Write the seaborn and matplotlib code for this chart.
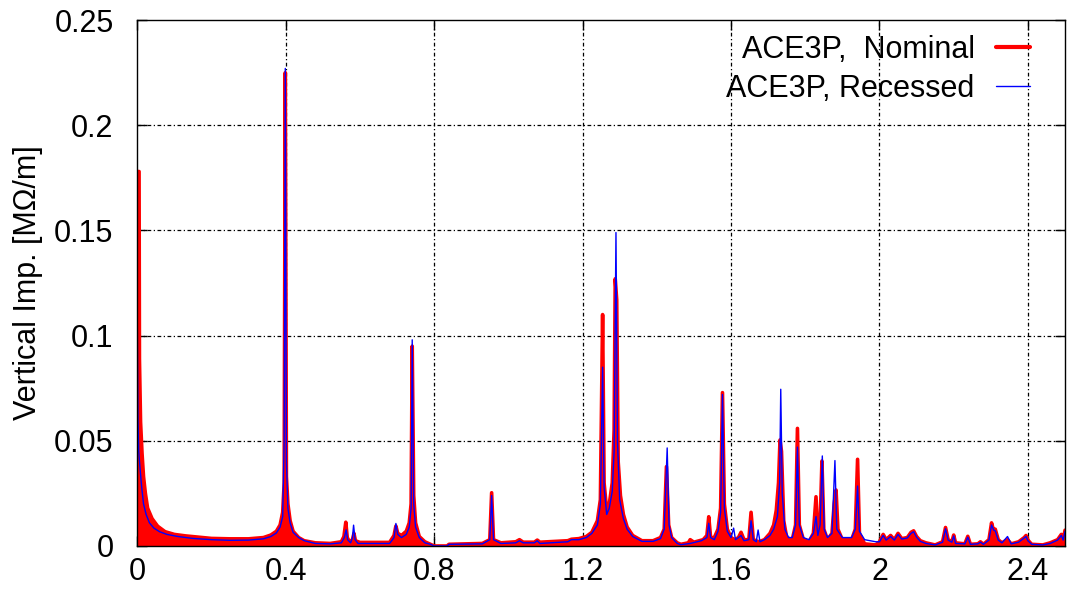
import matplotlib
matplotlib.use("Agg")
import matplotlib.pyplot as plt
import seaborn as sns
import pandas as pd
import numpy as np
from matplotlib.lines import Line2D

# ---------------- data ----------------
nominal_f = [0.000, 0.005, 0.006, 0.009, 0.013, 0.017, 0.022, 0.028, 0.040, 0.055,
             0.075, 0.10, 0.13, 0.16, 0.20, 0.25, 0.30, 0.34, 0.36, 0.375,
             0.385, 0.392, 0.396, 0.399, 0.402, 0.406, 0.412, 0.42, 0.435, 0.45,
             0.48, 0.52, 0.55, 0.557, 0.562, 0.566, 0.572, 0.580, 0.584, 0.588,
             0.60, 0.68, 0.692, 0.697, 0.702, 0.712, 0.725, 0.733, 0.738, 0.741,
             0.745, 0.750, 0.760, 0.775, 0.79, 0.80, 0.835, 0.84, 0.93, 0.95,
             0.955, 0.960, 0.98, 1.02, 1.03, 1.04, 1.07, 1.078, 1.085, 1.16,
             1.17, 1.19, 1.21, 1.225, 1.24, 1.248, 1.254, 1.258, 1.265, 1.272,
             1.28, 1.285, 1.288, 1.292, 1.296, 1.302, 1.31, 1.32, 1.335, 1.36,
             1.39, 1.41, 1.42, 1.426, 1.432, 1.44, 1.455, 1.465, 1.485, 1.49,
             1.50, 1.525, 1.535, 1.540, 1.545, 1.555, 1.565, 1.572, 1.577, 1.582,
             1.59, 1.60, 1.61, 1.62, 1.627, 1.635, 1.648, 1.654, 1.660, 1.675,
             1.69, 1.705, 1.715, 1.722, 1.728, 1.732, 1.736, 1.742, 1.75, 1.765,
             1.774, 1.779, 1.784, 1.795, 1.81, 1.822, 1.829, 1.834, 1.840, 1.845,
             1.850, 1.86, 1.872, 1.878, 1.883, 1.888, 1.90, 1.925, 1.935, 1.941,
             1.946, 1.96, 1.99, 2.00, 2.01, 2.018, 2.03, 2.04, 2.05, 2.06,
             2.075, 2.085, 2.092, 2.10, 2.11, 2.125, 2.15, 2.17, 2.178, 2.185,
             2.195, 2.20, 2.205, 2.23, 2.238, 2.245, 2.265, 2.272, 2.28, 2.295,
             2.302, 2.308, 2.312, 2.32, 2.33, 2.345, 2.355, 2.375, 2.39, 2.395,
             2.40, 2.41, 2.44, 2.46, 2.48, 2.49, 2.495, 2.50]
nominal_z = [0.178, 0.178, 0.089, 0.059, 0.044, 0.033, 0.025, 0.018, 0.013, 0.0094,
             0.0068, 0.0055, 0.0048, 0.0043, 0.0036, 0.0034, 0.0034, 0.0040, 0.0052, 0.0070,
             0.0100, 0.016, 0.030, 0.225, 0.033, 0.020, 0.012, 0.0070, 0.0040, 0.0025,
             0.0015, 0.0012, 0.0020, 0.0045, 0.0113, 0.0040, 0.0020, 0.0030, 0.0060, 0.0025,
             0.0017, 0.0017, 0.0050, 0.0095, 0.0060, 0.0050, 0.0070, 0.0110, 0.020, 0.095,
             0.024, 0.011, 0.0045, 0.0020, 0.0008, 0.0, 0.0, 0.0008, 0.0012, 0.003,
             0.0253, 0.003, 0.0015, 0.0020, 0.0030, 0.0018, 0.0018, 0.0028, 0.0018, 0.0025,
             0.0032, 0.0035, 0.0045, 0.0065, 0.012, 0.022, 0.110, 0.030, 0.017, 0.020,
             0.030, 0.055, 0.127, 0.117, 0.040, 0.024, 0.015, 0.009, 0.005, 0.0025,
             0.0025, 0.004, 0.008, 0.0377, 0.010, 0.004, 0.0015, 0.0008, 0.0015, 0.003,
             0.0018, 0.003, 0.005, 0.0139, 0.004, 0.004, 0.008, 0.018, 0.0729, 0.020,
             0.008, 0.004, 0.003, 0.004, 0.0065, 0.003, 0.003, 0.016, 0.003, 0.002,
             0.003, 0.006, 0.010, 0.017, 0.030, 0.0504, 0.045, 0.012, 0.004, 0.003,
             0.010, 0.0559, 0.010, 0.003, 0.002, 0.006, 0.0234, 0.005, 0.010, 0.0404,
             0.008, 0.003, 0.006, 0.020, 0.0266, 0.008, 0.003, 0.003, 0.008, 0.0412,
             0.006, 0.001, 0.0005, 0.0020, 0.0055, 0.0030, 0.0050, 0.0030, 0.0060, 0.0035,
             0.0040, 0.0065, 0.0072, 0.0045, 0.0025, 0.0015, 0.0005, 0.0020, 0.0088, 0.0030,
             0.0020, 0.0052, 0.0015, 0.0010, 0.0046, 0.0008, 0.0010, 0.0020, 0.0008, 0.0030,
             0.0110, 0.0070, 0.0080, 0.0030, 0.0015, 0.0030, 0.0010, 0.0020, 0.0040, 0.0050,
             0.0028, 0.0008, 0.0005, 0.0015, 0.0030, 0.0055, 0.0030, 0.0075]

recessed_f = [0.000, 0.002, 0.004, 0.008, 0.012, 0.017, 0.024, 0.033, 0.045, 0.06,
              0.08, 0.11, 0.15, 0.20, 0.25, 0.30, 0.34, 0.36, 0.375, 0.385,
              0.392, 0.396, 0.399, 0.402, 0.406, 0.412, 0.42, 0.435, 0.45, 0.48,
              0.52, 0.55, 0.558, 0.563, 0.567, 0.575, 0.580, 0.583, 0.587, 0.595,
              0.68, 0.692, 0.697, 0.702, 0.712, 0.725, 0.733, 0.738, 0.741, 0.745,
              0.750, 0.760, 0.775, 0.79, 0.80, 0.835, 0.84, 0.93, 0.95, 0.955,
              0.960, 0.98, 1.02, 1.03, 1.04, 1.07, 1.078, 1.085, 1.16, 1.17,
              1.19, 1.21, 1.225, 1.24, 1.248, 1.254, 1.258, 1.265, 1.272, 1.28,
              1.285, 1.290, 1.294, 1.30, 1.31, 1.32, 1.335, 1.36, 1.39, 1.41,
              1.42, 1.428, 1.433, 1.44, 1.455, 1.465, 1.49, 1.52, 1.535, 1.540,
              1.545, 1.555, 1.565, 1.572, 1.577, 1.582, 1.59, 1.60, 1.607, 1.612,
              1.62, 1.627, 1.635, 1.648, 1.654, 1.660, 1.668, 1.673, 1.678, 1.69,
              1.705, 1.715, 1.725, 1.731, 1.734, 1.738, 1.745, 1.755, 1.765, 1.774,
              1.779, 1.784, 1.795, 1.81, 1.822, 1.829, 1.834, 1.840, 1.846, 1.851,
              1.86, 1.872, 1.880, 1.885, 1.90, 1.925, 1.935, 1.941, 1.946, 1.96,
              1.99, 2.00, 2.01, 2.018, 2.03, 2.04, 2.05, 2.06, 2.075, 2.085,
              2.092, 2.10, 2.11, 2.125, 2.15, 2.17, 2.178, 2.185, 2.195, 2.20,
              2.205, 2.23, 2.238, 2.245, 2.265, 2.272, 2.28, 2.295, 2.302, 2.308,
              2.312, 2.32, 2.33, 2.345, 2.355, 2.375, 2.39, 2.395, 2.40, 2.41,
              2.44, 2.46, 2.48, 2.49, 2.495, 2.50]
recessed_z = [0.112, 0.060, 0.045, 0.036, 0.028, 0.020, 0.015, 0.011, 0.0085, 0.0068,
              0.0055, 0.0045, 0.0036, 0.0030, 0.0027, 0.0028, 0.0034, 0.0045, 0.0062, 0.0090,
              0.014, 0.050, 0.227, 0.040, 0.018, 0.011, 0.0065, 0.0040, 0.0025, 0.0012,
              0.0010, 0.0015, 0.0040, 0.0077, 0.0030, 0.0015, 0.0040, 0.0099, 0.0030, 0.0012,
              0.0012, 0.0040, 0.0107, 0.0055, 0.0040, 0.0055, 0.0090, 0.018, 0.098, 0.020,
              0.009, 0.0040, 0.0015, 0.0008, 0.0, 0.0, 0.0008, 0.0010, 0.0030, 0.024,
              0.0030, 0.0012, 0.0015, 0.0025, 0.0015, 0.0015, 0.0025, 0.0012, 0.0020, 0.0030,
              0.0030, 0.0040, 0.0060, 0.010, 0.020, 0.085, 0.028, 0.015, 0.018, 0.026,
              0.045, 0.149, 0.050, 0.022, 0.013, 0.008, 0.0045, 0.0022, 0.0022, 0.0035,
              0.008, 0.0466, 0.010, 0.004, 0.0012, 0.0006, 0.0012, 0.0025, 0.004, 0.0108,
              0.004, 0.003, 0.007, 0.016, 0.072, 0.018, 0.007, 0.004, 0.0085, 0.003,
              0.004, 0.005, 0.0025, 0.003, 0.012, 0.003, 0.002, 0.0076, 0.002, 0.003,
              0.005, 0.008, 0.014, 0.030, 0.0745, 0.025, 0.008, 0.004, 0.004, 0.010,
              0.047, 0.010, 0.004, 0.003, 0.006, 0.014, 0.005, 0.010, 0.0428, 0.008,
              0.004, 0.006, 0.0406, 0.008, 0.004, 0.004, 0.008, 0.0285, 0.007, 0.003,
              0.002, 0.0020, 0.0050, 0.0028, 0.0045, 0.0028, 0.0055, 0.0033, 0.0038, 0.0060,
              0.0068, 0.0042, 0.0022, 0.0012, 0.0005, 0.0018, 0.0082, 0.0028, 0.0018, 0.0048,
              0.0012, 0.0010, 0.0042, 0.0008, 0.0010, 0.0018, 0.0008, 0.0028, 0.0100, 0.0075,
              0.0072, 0.0028, 0.0015, 0.0045, 0.0010, 0.0018, 0.0038, 0.0045, 0.0025, 0.0008,
              0.0005, 0.0012, 0.0028, 0.0050, 0.0028, 0.0070]

x_ticks = [0, 0.4, 0.8, 1.2, 1.6, 2.0, 2.4]
x_tick_labels = ["0", "0.4", "0.8", "1.2", "1.6", "2", "2.4"]
y_ticks = [0, 0.05, 0.1, 0.15, 0.2, 0.25]
y_tick_labels = ["0", "0.05", "0.1", "0.15", "0.2", "0.25"]
series_labels = ["ACE3P,  Nominal", "ACE3P, Recessed"]
y_label = "Vertical Imp. [MΩ/m]"

# ---------------- figure ----------------
sns.set_style("ticks")
plt.rcParams['font.family'] = ['Liberation Sans', 'DejaVu Sans']
plt.rcParams['text.color'] = 'black'
plt.rcParams['axes.labelcolor'] = 'black'
plt.rcParams['xtick.color'] = 'black'
plt.rcParams['ytick.color'] = 'black'
FS = 22

fig = plt.figure(figsize=(10.72, 5.90), dpi=100)
ax = fig.add_axes([0.128, 0.0746, 0.8655, 0.8914])

df_nom = pd.DataFrame({"f": nominal_f, "z": nominal_z})
df_rec = pd.DataFrame({"f": recessed_f, "z": recessed_z})

ax.fill_between(df_nom["f"], 0, df_nom["z"], color="#ff0000", linewidth=0, zorder=2)
sns.lineplot(data=df_nom, x="f", y="z", ax=ax, color="#ff0000", linewidth=2.6,
             sort=False, estimator=None, zorder=3, legend=False)
sns.lineplot(data=df_rec, x="f", y="z", ax=ax, color="#0000ff", linewidth=1.0,
             sort=False, estimator=None, zorder=4, legend=False)

ax.set_xlim(0, 2.5)
ax.set_ylim(0, 0.25)
ax.set_xticks(x_ticks)
ax.set_xticklabels(x_tick_labels, fontsize=FS)
ax.set_yticks(y_ticks)
ax.set_yticklabels(y_tick_labels, fontsize=FS)
ax.set_xlabel("")
ax.set_ylabel(y_label, fontsize=FS, labelpad=8, color="black")

ax.tick_params(direction="in", length=7, width=1, top=True, right=True,
               colors="black", labelcolor="black")
ax.tick_params(axis="x", pad=8)
ax.tick_params(axis="y", pad=17)

# gnuplot-like dotted grid
for xv in x_ticks[1:]:
    ax.axvline(xv, color="black", linewidth=0.9, linestyle=(0, (3, 2, 1, 2)), zorder=1)
for yv in y_ticks[1:-1]:
    ax.axhline(yv, color="black", linewidth=0.9, linestyle=(0, (3, 2, 1, 2)), zorder=1)

for sp in ax.spines.values():
    sp.set_linewidth(1.0)
    sp.set_color("black")
    sp.set_zorder(5)

handles = [Line2D([], [], color="#ff0000", linewidth=3.0),
           Line2D([], [], color="#0000ff", linewidth=1.0)]
leg = ax.legend(handles, series_labels, loc="upper right", frameon=False, fontsize=FS,
                markerfirst=False, handlelength=1.1, handletextpad=0.7,
                labelspacing=0.3, bbox_to_anchor=(0.975, 0.995), borderaxespad=0.0)
for t in leg.get_texts():
    t.set_color("black")

fig.savefig("out.png", dpi=100)
